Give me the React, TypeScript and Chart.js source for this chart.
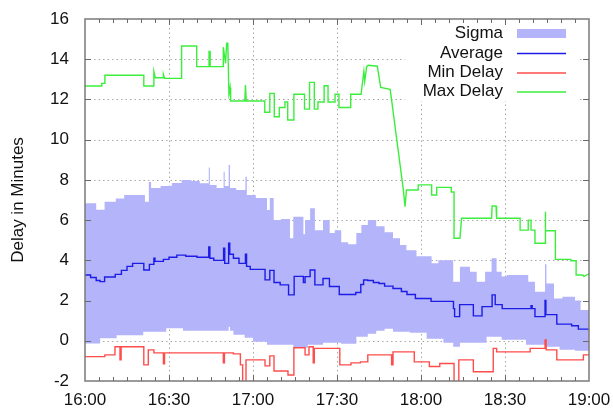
import React, { useEffect, useRef } from "react";
import { Chart, registerables } from "chart.js";

Chart.register(...registerables);

// ---- tick labels ----
const xTickLabels = ["16:00", "16:30", "17:00", "17:30", "18:00", "18:30", "19:00"];
const yTickValues = [-2, 0, 2, 4, 6, 8, 10, 12, 14, 16];
const legendLabels = ["Sigma", "Average", "Min Delay", "Max Delay"];

// ---- sigma band (minutes after 16:00, step values) ----
const sigmaTimes = [
  0, 4, 5.4, 7, 11, 11.3, 14, 20.8, 21.4, 22.8, 23.6, 27, 29, 31, 34.5, 35, 38, 41, 44.2, 44.6,
  47, 49.5, 49.9, 51.3, 51.8, 53, 54, 57, 57.3, 57.8, 60, 61, 65, 66, 67.4, 70, 73.2, 74.4, 78,
  78.6, 79.6, 80.4, 82.1, 85, 87.4, 89.2, 91.5, 94, 96.9, 98.7, 101, 104, 107, 110, 112.5, 114.8,
  116, 118.4, 122, 123.8, 126.2, 128, 131.5, 133.9, 137.5, 139.9, 142.9, 143.4, 145.2, 147, 148.8,
  150.6, 157.5, 158.3, 160.7, 164.3, 164.8, 167.5, 169.5, 170.5, 175, 177, 180,
];
const sigmaUpper = [
  6.84, 6.52, 6.52, 6.91, 7.08, 7.08, 7.25, 7.25, 6.91, 7.9, 7.6, 7.7, 7.7, 7.85, 8.0, 8.0, 7.95, 7.83, 8.62, 7.75,
  7.6, 8.4, 7.7, 8.74, 7.6, 7.6, 7.5, 7.5, 8.16, 7.25, 7.25, 7.1, 6.5, 7.1, 6.0, 6.05, 5.1, 6.17, 5.3,
  6.0, 6.0, 6.59, 5.5, 6.0, 5.36, 5.5, 4.9, 4.8, 5.36, 5.76, 6.0, 5.7, 5.4, 5.1, 4.76, 4.5,
  4.5, 4.2, 4.2, 3.85, 4.0, 4.0, 2.94, 3.68, 3.43, 2.94, 3.43, 3.43, 4.1, 3.43, 3.19,
  3.27, 3.27, 2.94, 2.44, 3.8, 2.85, 2.1, 2.1, 2.19, 2.0, 1.53, 1.53,
];
const sigmaLower = [
  -0.13, -0.13, 0.12, 0.12, 0.12, 0.28, 0.28, 0.45, 0.45, 0.45, 0.45, 0.45, 0.62, 0.62, 0.62, 0.5, 0.5, 0.5, 0.5, 0.5,
  0.5, 0.5, 0.5, 0.7, 0.5, 0.3, 0.3, 0.15, 0.15, 0.15, -0.05, -0.05, -0.2, -0.2, -0.2, -0.2, -0.2, -0.35, -0.35,
  -0.35, -0.2, -0.2, -0.2, -0.1, -0.1, -0.1, -0.15, -0.15, 0.2, 0.2, 0.35, 0.5, 0.6, 0.45, 0.45, 0.45,
  0.4, 0.4, 0.1, 0.1, 0.1, -0.1, -0.3, -0.1, -0.1, -0.1, -0.1, 0.2, 0.2, 0.2, 0.05,
  0.05, -0.2, -0.2, -0.2, -0.3, -0.3, -0.3, -0.45, -0.45, -0.5, -0.5, -0.5,
];

// ---- average (step values) ----
const avgTimes = [
  0, 2, 4, 5.4, 7, 10.8, 13, 15, 17, 21, 23, 24.6, 25, 28, 30, 32.8, 36, 40, 44.2, 44.6, 46, 49.5,
  49.9, 51.3, 51.7, 53, 55, 57.3, 57.7, 59, 64.3, 66, 67.5, 69.7, 72.7, 74.7, 78, 78.6, 80.4, 82.1,
  85, 87.3, 90.8, 96.7, 98.5, 99.5, 101, 103, 105, 107, 110, 113, 115, 118, 123.6, 131.6, 132,
  133.8, 138.7, 141.8, 145.4, 146.5, 149, 159.3, 159.7, 160.7, 164.3, 164.6, 168.5, 173.8, 176.2, 180,
];
const avgValues = [
  3.27, 3.15, 3.0, 2.94, 3.17, 3.3, 3.5, 3.7, 3.85, 3.52, 3.8, 4.1, 3.95, 4.05, 4.15, 4.26, 4.2, 4.15, 4.67, 4.1, 4.0, 4.6,
  3.85, 4.85, 4.3, 4.1, 3.85, 4.3, 3.7, 3.55, 3.03, 3.5, 2.9, 2.78, 2.28, 3.2, 2.9, 3.19, 3.52, 2.78,
  3.1, 2.7, 2.3, 2.4, 2.8, 3.02, 3.0, 2.9, 2.85, 2.72, 2.6, 2.45, 2.3, 2.1, 1.96, 1.6, 1.2,
  1.8, 1.24, 1.7, 2.28, 1.8, 1.6, 1.75, 1.6, 1.2, 2.0, 1.3, 0.83, 0.75, 0.58, 0.6,
];

// ---- min delay (step values) ----
const minTimes = [
  0, 7.1, 10.7, 12.5, 12.9, 21, 22.6, 24.6, 28, 28.4, 49.4, 49.8, 53, 55.5, 56.3, 57.5, 64.3, 66,
  67.5, 72.5, 74.6, 78.6, 80, 81.5, 81.9, 91, 95, 98.4, 101, 109.5, 110, 117.6, 123, 126.7, 131.8,
  133.5, 138.7, 145.8, 147, 159, 164.3, 164.7, 168.5, 178, 180,
];
const minValues = [
  -0.79, -0.7, -0.3, -0.95, -0.3, -1.2, -0.45, -0.6, -1.15, -0.6, -1.1, -0.6, -0.65, -1.2, -2.3, -0.95, -1.25, -0.75,
  -1.5, -1.7, -0.35, -0.7, -0.3, -1.1, -0.38, -1.2, -1.1, -1.05, -0.7, -1.2, -0.55, -1.05, -1.28, -1.13, -2.3,
  -0.95, -1.54, -0.38, -0.55, -0.38, 0.04, -0.45, -0.95, -0.7, -0.7,
];

// ---- max delay (polyline vertices) ----
const maxTimes = [
  0, 6, 6, 7.1, 7.1, 21, 21, 24.6, 24.6, 25.1, 28, 28, 28.4, 34.5, 34.5, 39.9, 39.9, 44.3, 44.3, 44.7,
  44.7, 49.4, 49.4, 49.8, 50.2, 50.6, 51, 51.4, 51.8, 52, 57.1, 57.3, 57.6, 64.2, 64.2, 66, 66, 67.6,
  67.6, 69.4, 69.4, 71.4, 71.4, 72.4, 72.4, 74.6, 74.6, 78.4, 78.4, 80.2, 80.2, 81.9, 81.9, 83.2, 83.2,
  85.4, 85.4, 86.8, 86.8, 89.3, 89.3, 90.7, 90.7, 94.9, 94.9, 98.6, 99.6, 99.9, 100.6, 101.2, 104.4,
  105.6, 109, 113.7, 114.3, 114.8, 119, 119, 123.8, 123.8, 125.6, 125.6, 130.8, 130.8, 131.8, 131.8,
  133.9, 134.5, 145.2, 145.4, 146.8, 147, 155.4, 155.4, 158.3, 158.3, 159.3, 159.3, 160.7, 160.7,
  164.3, 164.3, 164.6, 168, 168, 173.5, 173.5, 175.4, 175.4, 177.8, 178.2, 180,
];
const maxValues = [
  12.67, 12.67, 12.8, 12.8, 13.2, 13.2, 12.67, 12.67, 13.38, 13.08, 13.08, 13.25, 13.05, 13.05, 14.66, 14.66, 13.63, 13.63, 14.39, 14.39,
  13.63, 13.63, 14.6, 14.2, 13.8, 14.8, 14.8, 12.3, 12.6, 11.92, 11.92, 12.72, 11.92, 11.92, 11.36, 11.36, 12.3, 12.3,
  11.14, 11.14, 11.6, 11.6, 11.87, 11.87, 10.98, 10.98, 12.26, 12.26, 11.52, 11.52, 12.85, 12.85, 11.52, 11.52, 11.87,
  11.87, 12.68, 12.68, 11.87, 11.87, 12.26, 12.26, 11.6, 11.6, 12.26, 12.26, 13.4, 12.9, 13.63, 13.7, 13.65,
  12.6, 12.5, 7.5, 6.67, 7.5, 7.5, 7.75, 7.75, 7.25, 7.25, 7.63, 7.63, 7.4, 7.4, 5.1,
  5.1, 6.09, 6.09, 6.7, 6.7, 6.09, 6.09, 5.5, 5.5, 6.0, 6.0, 5.5, 5.5, 4.85,
  4.85, 6.42, 5.47, 5.47, 4.05, 4.05, 3.98, 3.98, 3.27, 3.27, 3.2, 3.33,
];

const SIGMA_COLOR = "rgb(180,180,250)";
const AVG_COLOR = "#1c1ce6";
const MIN_COLOR = "#ff4c4c";
const MAX_COLOR = "#3cee3c";
const FONT = "'Liberation Sans', Arial, Helvetica, sans-serif";

const toPts = (ts: number[], vs: number[]) => ts.map((t, i) => ({ x: t, y: vs[i] }));

const gnuFrame = {
  id: "gnuFrame",
  beforeDatasetsDraw(chart: any) {
    const { ctx, chartArea: a, scales } = chart;
    const x = scales.x, y = scales.y;
    ctx.save();
    ctx.strokeStyle = "#a8a8a8";
    ctx.lineWidth = 1;
    ctx.setLineDash([1.5, 3]);
    for (const v of yTickValues) {
      if (v <= y.min || v >= y.max) continue;
      const py = Math.round(y.getPixelForValue(v)) + 0.5;
      ctx.beginPath();
      ctx.moveTo(a.left, py);
      ctx.lineTo(a.right, py);
      ctx.stroke();
    }
    for (let m = 30; m < 180; m += 30) {
      const px = Math.round(x.getPixelForValue(m)) + 0.5;
      ctx.beginPath();
      ctx.moveTo(px, a.top);
      ctx.lineTo(px, a.bottom);
      ctx.stroke();
    }
    ctx.restore();
  },
  afterDatasetsDraw(chart: any) {
    const { ctx, chartArea: a, scales } = chart;
    const x = scales.x, y = scales.y;
    ctx.save();
    // legend box
    ctx.fillStyle = "#ffffff";
    ctx.fillRect(405, a.top + 1, 173, 81);
    ctx.font = `17px ${FONT}`;
    ctx.textAlign = "right";
    ctx.textBaseline = "middle";
    const rows = [33.5, 53, 72.5, 91.5];
    const colors = [SIGMA_COLOR, AVG_COLOR, MIN_COLOR, MAX_COLOR];
    legendLabels.forEach((lab, i) => {
      ctx.fillStyle = "#111";
      ctx.fillText(lab, 503, rows[i]);
      if (i === 0) {
        ctx.fillStyle = colors[i];
        ctx.fillRect(517, rows[i] - 4.5, 49, 9);
      } else {
        ctx.strokeStyle = colors[i];
        ctx.lineWidth = 1.3;
        ctx.beginPath();
        ctx.moveTo(517, rows[i] + 0.5);
        ctx.lineTo(566, rows[i] + 0.5);
        ctx.stroke();
      }
    });
    // frame
    ctx.strokeStyle = "#7a7a7a";
    ctx.lineWidth = 1.5;
    ctx.strokeRect(a.left, a.top, a.right - a.left, a.bottom - a.top);
    ctx.lineWidth = 1;
    ctx.strokeStyle = "#6a6a6a";
    for (let m = 5; m < 180; m += 5) {
      const px = Math.round(x.getPixelForValue(m)) + 0.5;
      const len = m % 30 === 0 ? 6 : 4;
      ctx.beginPath();
      ctx.moveTo(px, a.bottom);
      ctx.lineTo(px, a.bottom - len);
      ctx.moveTo(px, a.top);
      ctx.lineTo(px, a.top + len);
      ctx.stroke();
    }
    for (const v of yTickValues) {
      if (v <= y.min || v >= y.max) continue;
      const py = Math.round(y.getPixelForValue(v)) + 0.5;
      ctx.beginPath();
      ctx.moveTo(a.left, py);
      ctx.lineTo(a.left + 6, py);
      ctx.moveTo(a.right, py);
      ctx.lineTo(a.right - 6, py);
      ctx.stroke();
    }
    ctx.restore();
  },
};

export default function App() {
  const ref = useRef<HTMLCanvasElement | null>(null);
  useEffect(() => {
    if (!ref.current) return;
    Chart.defaults.font.family = FONT;
    const lineCommon = { pointRadius: 0, borderWidth: 1.4, fill: false, tension: 0 };
    const chart = new Chart(ref.current, {
      type: "line",
      data: {
        datasets: [
          { label: "Max Delay", data: toPts(maxTimes, maxValues), borderColor: MAX_COLOR, ...lineCommon },
          { label: "Average", data: toPts(avgTimes, avgValues), borderColor: AVG_COLOR, stepped: true, ...lineCommon },
          { label: "Min Delay", data: toPts(minTimes, minValues), borderColor: MIN_COLOR, stepped: true, ...lineCommon },
          {
            label: "Sigma",
            data: toPts(sigmaTimes, sigmaUpper),
            borderColor: SIGMA_COLOR,
            backgroundColor: SIGMA_COLOR,
            borderWidth: 0,
            pointRadius: 0,
            stepped: true,
            fill: "+1",
          },
          {
            label: "SigmaLow",
            data: toPts(sigmaTimes, sigmaLower),
            borderColor: SIGMA_COLOR,
            borderWidth: 0,
            pointRadius: 0,
            stepped: true,
            fill: false,
          },
        ],
      },
      options: {
        responsive: false,
        animation: false,
        events: [],
        layout: { padding: { left: 0, right: 24, top: 19, bottom: 0 } },
        plugins: { legend: { display: false }, tooltip: { enabled: false } },
        scales: {
          x: {
            type: "linear",
            min: 0,
            max: 180,
            grid: { display: false, drawTicks: true, tickLength: 9 },
            border: { display: false },
            ticks: {
              stepSize: 30,
              autoSkip: false,
              maxRotation: 0,
              padding: 0,
              color: "#111",
              font: { size: 17, family: FONT },
              callback: (_v: any, i: number) => xTickLabels[i],
            },
            afterFit: (s: any) => {
              s.height = 28;
            },
          },
          y: {
            type: "linear",
            min: -2,
            max: 16,
            grid: { display: false, drawTicks: true, tickLength: 16 },
            border: { display: false },
            ticks: {
              stepSize: 2,
              padding: 0,
              color: "#111",
              font: { size: 17, family: FONT },
            },
            title: {
              display: true,
              text: "Delay in Minutes",
              color: "#111",
              font: { size: 17, family: FONT },
              padding: { top: 8, bottom: 0 },
            },
            afterFit: (s: any) => {
              s.width = 85;
            },
          },
        },
      },
      plugins: [gnuFrame],
    });
    return () => chart.destroy();
  }, []);
  return (
    <div style={{ position: "fixed", left: 0, top: 0, width: 613, height: 409, background: "#fff" }}>
      <canvas ref={ref} width={613} height={409} style={{ display: "block" }} />
    </div>
  );
}
